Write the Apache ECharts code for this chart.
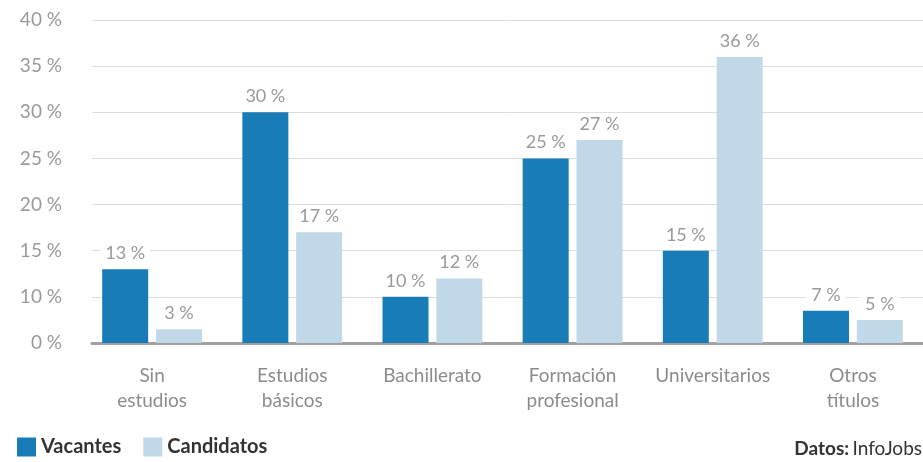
<!DOCTYPE html>
<html>
<head>
<meta charset="utf-8">
<script src="https://cdn.jsdelivr.net/npm/echarts@6/dist/echarts.min.js"></script>
<style>
html,body{margin:0;padding:0;background:#fff;}
#c{width:923px;height:462px;}
</style>
</head>
<body>
<div id="c"></div>
<script>
const categories = ['Sin\nestudios', 'Estudios\nbásicos', 'Bachillerato', 'Formación\nprofesional', 'Universitarios', 'Otros\ntítulos'];
const vacantes = [13, 30, 10, 25, 15, 7];
const candidatos = [3, 17, 12, 27, 36, 5];
const yTicks = [0, 10, 15, 20, 25, 30, 35, 40];

// broken (piecewise) axis as in the original: one gridline step per tick label
function toAxis(v) {
  for (let i = 1; i < yTicks.length; i++) {
    if (v <= yTicks[i]) {
      return (i - 1) + (v - yTicks[i - 1]) / (yTicks[i] - yTicks[i - 1]);
    }
  }
  return yTicks.length - 1;
}

const FONT = 'Lato, "Open Sans", sans-serif';
const chart = echarts.init(document.getElementById('c'), null, {renderer: 'canvas'});

function labelFor(arr) {
  return {
    show: true,
    position: 'top',
    distance: 7,
    color: '#9a9a9a',
    fontFamily: FONT,
    fontSize: 18,
    backgroundColor: '#fff',
    padding: [1, 5, 0, 5],
    formatter: p => arr[p.dataIndex] + ' %'
  };
}

chart.setOption({
  animation: false,
  backgroundColor: '#fff',
  grid: [
    {left: 92, right: 0, top: 20, bottom: 119, containLabel: false},
    {left: 82, width: 852, top: 20, bottom: 119, containLabel: false}
  ],
  xAxis: [
    {
      gridIndex: 0, type: 'value', min: 0, max: 1,
      axisLine: {show: true, lineStyle: {color: '#a0a0a0', width: 3}},
      axisTick: {show: false}, axisLabel: {show: false}, splitLine: {show: false}
    },
    {
      gridIndex: 1, type: 'category', data: categories,
      axisLine: {show: false}, axisTick: {show: false},
      axisLabel: {
        margin: 20, color: '#8c8c8c', fontFamily: FONT, fontSize: 19,
        lineHeight: 25, interval: 0
      }
    }
  ],
  yAxis: [
    {
      gridIndex: 0, type: 'value', min: 0, max: yTicks.length - 1, interval: 1,
      axisLine: {show: false}, axisTick: {show: false},
      axisLabel: {
        margin: 30, color: '#9a9a9a', fontFamily: FONT, fontSize: 19,
        formatter: v => yTicks[Math.round(v)] + ' %'
      },
      splitLine: {show: true, lineStyle: {color: '#dcdcdc', width: 1}}
    },
    {
      gridIndex: 1, type: 'value', min: 0, max: yTicks.length - 1, show: false,
      splitLine: {show: false}
    }
  ],
  legend: {
    left: 17, bottom: 5, padding: 0,
    itemWidth: 19, itemHeight: 19, itemGap: 22,
    icon: 'rect',
    textStyle: {color: '#333', fontFamily: FONT, fontSize: 20, fontWeight: 'bold', padding: [2, 0, 0, 0]},
    data: ['Vacantes', 'Candidatos']
  },
  graphic: [{
    type: 'text', right: 1, bottom: 4,
    style: {
      rich: {
        b: {fontFamily: FONT, fontSize: 19, fontWeight: 'bold', fill: '#333'},
        n: {fontFamily: FONT, fontSize: 19, fill: '#333'}
      },
      text: '{b|Datos:} {n|InfoJobs}'
    }
  }],
  series: [
    {
      name: 'Vacantes', type: 'bar', xAxisIndex: 1, yAxisIndex: 1,
      data: vacantes.map(toAxis), barWidth: 46, barGap: '17%',
      itemStyle: {color: '#187cb7'},
      label: labelFor(vacantes)
    },
    {
      name: 'Candidatos', type: 'bar', xAxisIndex: 1, yAxisIndex: 1,
      data: candidatos.map(toAxis), barWidth: 46, barGap: '17%',
      itemStyle: {color: '#c1d8e8'},
      label: labelFor(candidatos)
    }
  ]
});
</script>
</body>
</html>
